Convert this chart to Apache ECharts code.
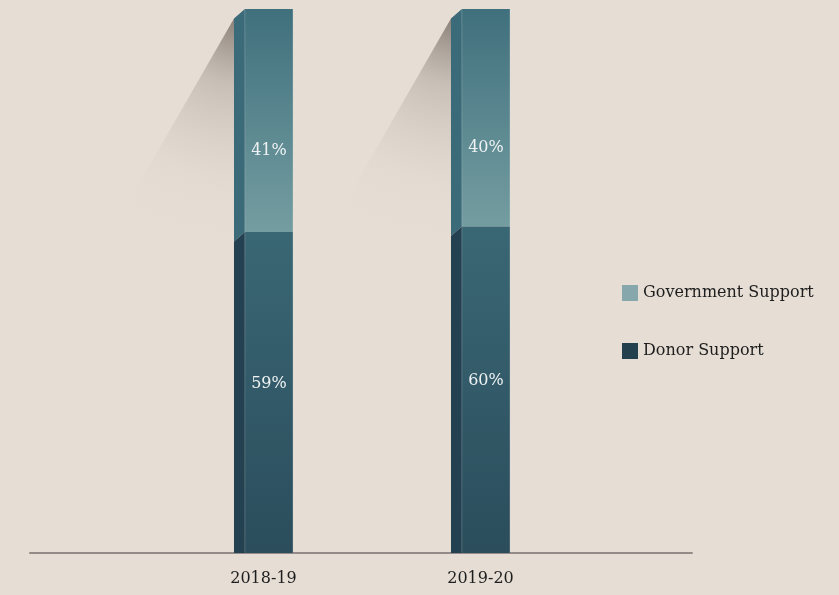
<!DOCTYPE html>
<html>
<head>
<meta charset="utf-8">
<script src="https://cdn.jsdelivr.net/npm/echarts@6/dist/echarts.min.js"></script>
<style>
  html, body { margin: 0; padding: 0; background: #e6ded5; }
  #chart { width: 839px; height: 595px; }
</style>
</head>
<body>
<div id="chart"></div>
<script>
// Funding mix by fiscal year (percent of total)
const categories = ['2018-19', '2019-20'];
const governmentSupport = [41, 40];
const donorSupport = [59, 60];

const FONT = '"DejaVu Serif", "Liberation Serif", serif';

// [categoryIndex, segmentStart, segmentEnd, value]
const donorData = donorSupport.map((v, i) => [i, 0, v, v]);
const govData = governmentSupport.map((v, i) => [i, donorSupport[i], donorSupport[i] + v, v]);

function makeRenderer(kind) {
  const front = kind === 'gov'
    ? [{ offset: 0, color: '#40707d' }, { offset: 1, color: '#749da1' }]
    : [{ offset: 0, color: '#3a6774' }, { offset: 1, color: '#2b4d5c' }];
  const sideColor = kind === 'gov' ? '#3b6a78' : '#244152';
  const labelShift = kind === 'gov' ? 30 : -9;

  return function (params, api) {
    const i = api.value(0);
    const lo = api.value(1);
    const hi = api.value(2);
    const val = api.value(3);
    const base = api.coord([i, lo]);
    const top = api.coord([i, hi]);
    const band = api.size([1, 0])[0];
    const half = band * 0.136;
    const depth = band * 0.05;
    const dy = 9.5;
    const left = base[0] - half;
    const frontL = left + depth;
    const right = base[0] + half;
    const yB = base[1];
    const yT = top[1];
    const children = [];

    if (kind === 'gov') {
      // soft cast shadow falling to the left of the column top
      const sx = left, sy = yT + dy;
      children.push({
        type: 'polygon',
        shape: { points: [[sx, sy], [sx - 112, sy + 195], [sx - 60, sy + 290], [sx, sy + 300]] },
        style: {
          fill: {
            type: 'radial', x: sx + 4, y: sy - 4, r: 235, global: true,
            colorStops: [
              { offset: 0, color: 'rgba(115,105,99,0.85)' },
              { offset: 0.3, color: 'rgba(170,160,152,0.5)' },
              { offset: 0.7, color: 'rgba(215,206,197,0.25)' },
              { offset: 1, color: 'rgba(230,222,213,0)' }
            ]
          }
        },
        z2: 0
      });
    }

    // side face
    children.push({
      type: 'polygon',
      shape: { points: [[left, yT + dy], [frontL, yT], [frontL, yB], [left, lo > 0 ? yB + dy : yB]] },
      style: { fill: sideColor },
      z2: 1
    });
    // front face
    children.push({
      type: 'rect',
      shape: { x: frontL, y: yT, width: right - frontL, height: yB - yT },
      style: { fill: { type: 'linear', x: 0, y: 0, x2: 0, y2: 1, colorStops: front } },
      z2: 2
    });
    // subtle highlight on the front edges
    children.push({
      type: 'line',
      shape: { x1: frontL + 0.5, y1: yT, x2: frontL + 0.5, y2: yB },
      style: { stroke: 'rgba(255,255,255,0.08)', lineWidth: 1 },
      z2: 3
    });
    children.push({
      type: 'line',
      shape: { x1: right - 0.5, y1: yT, x2: right - 0.5, y2: yB },
      style: { stroke: 'rgba(255,255,255,0.12)', lineWidth: 1 },
      z2: 3
    });
    // value label
    children.push({
      type: 'text',
      style: {
        text: val + '%',
        x: (frontL + right) / 2,
        y: (yT + yB) / 2 + labelShift,
        align: 'center',
        verticalAlign: 'middle',
        fill: '#eef2f3',
        font: '16px ' + FONT
      },
      z2: 4
    });
    return { type: 'group', children };
  };
}

const chart = echarts.init(document.getElementById('chart'), null, { renderer: 'canvas' });
chart.setOption({
  backgroundColor: '#e6ded5',
  animation: false,
  grid: [
    { left: 155, width: 434, top: 9, bottom: 42 },
    { left: 30, width: 662, top: 9, bottom: 42 }
  ],
  xAxis: [
    {
      type: 'category', gridIndex: 0, data: categories,
      axisLine: { show: false }, axisTick: { show: false },
      axisLabel: { color: '#1e1e1e', fontFamily: FONT, fontSize: 16, margin: 18 }
    },
    {
      type: 'value', gridIndex: 1, min: 0, max: 1,
      axisLine: { show: true, onZero: false, lineStyle: { color: '#948b88', width: 2 } },
      axisTick: { show: false }, axisLabel: { show: false }, splitLine: { show: false }
    }
  ],
  yAxis: [
    { type: 'value', gridIndex: 0, min: 0, max: 100, show: false },
    { type: 'value', gridIndex: 1, min: 0, max: 1, show: false }
  ],
  legend: {
    orient: 'vertical', left: 622, top: 285, padding: 0,
    itemWidth: 16, itemHeight: 16, itemGap: 42,
    icon: 'rect',
    textStyle: { color: '#1e1e1e', fontFamily: FONT, fontSize: 16 },
    data: [
      { name: 'Government Support', itemStyle: { color: '#86a7ab' } },
      { name: 'Donor Support', itemStyle: { color: '#23404f' } }
    ]
  },
  series: [
    {
      name: 'Donor Support', type: 'custom', xAxisIndex: 0, yAxisIndex: 0,
      itemStyle: { color: '#23404f' },
      renderItem: makeRenderer('donor'),
      encode: { x: 0, y: [1, 2] },
      data: donorData, z: 3
    },
    {
      name: 'Government Support', type: 'custom', xAxisIndex: 0, yAxisIndex: 0,
      itemStyle: { color: '#86a7ab' },
      renderItem: makeRenderer('gov'),
      encode: { x: 0, y: [1, 2] },
      data: govData, z: 2
    }
  ]
});
</script>
</body>
</html>
